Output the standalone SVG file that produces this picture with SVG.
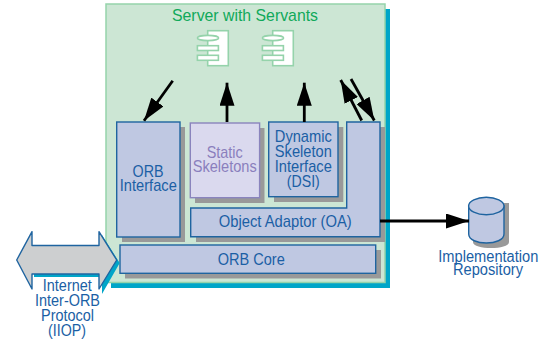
<svg xmlns="http://www.w3.org/2000/svg" width="547" height="341" viewBox="0 0 547 341">
<defs>
<style>
text{font-family:"Liberation Sans",Arial,sans-serif;font-size:17px;fill:#1b5fa5;text-anchor:middle}
.box{fill:#bfc8e2;stroke:#1f64a0;stroke-width:1.4}
.sh{fill:#999}
.comp{fill:#fff;stroke:#95d3ab;stroke-width:1.6}
.c{fill:none;stroke:#000;stroke-width:2.8}
.repo{font-size:16px}
</style>
<marker id="ah" viewBox="0 0 23 15" refX="23" refY="7.500" markerWidth="23" markerHeight="15" markerUnits="userSpaceOnUse" orient="auto"><path d="M0 0L23 7.500L0 15Z" fill="#000"/></marker>
</defs>
<g id="server">
<rect x="111" y="9" width="279" height="279" fill="#00a5c8"/>
<rect x="106" y="4" width="279" height="278.500" fill="#cce6d4" stroke="#95d3ab" stroke-width="1.500"/>
<text x="245" y="21" textLength="146" lengthAdjust="spacingAndGlyphs" style="fill:#10a95a">Server with Servants</text>
</g>
<g id="servant1">
<rect class="comp" x="207.700" y="30.700" width="20.600" height="35"/>
<ellipse class="comp" cx="208" cy="38" rx="10.600" ry="2.600"/>
<rect class="comp" x="197.400" y="45.700" width="21" height="4.800"/>
<rect class="comp" x="197.400" y="55.300" width="21" height="5"/>
</g>
<g id="servant2">
<rect class="comp" x="272.700" y="30.700" width="20.600" height="35"/>
<ellipse class="comp" cx="273" cy="38" rx="10.600" ry="2.600"/>
<rect class="comp" x="262.400" y="45.700" width="21" height="4.800"/>
<rect class="comp" x="262.400" y="55.300" width="21" height="5"/>
</g>
<g id="orb-interface">
<rect class="sh" x="122" y="127" width="63" height="115"/>
<rect class="box" x="116.700" y="122" width="63.300" height="115"/>
<text x="148" y="176.700" textLength="31" lengthAdjust="spacingAndGlyphs">ORB</text>
<text x="148.300" y="191" textLength="57" lengthAdjust="spacingAndGlyphs">Interface</text>
</g>
<g id="static-skeletons">
<rect class="sh" x="195" y="128" width="69.500" height="75"/>
<rect x="190.300" y="123" width="69.300" height="74.700" fill="#dad9ee" stroke="#8a84bd" stroke-width="1.400"/>
<text x="224.700" y="158" textLength="36" lengthAdjust="spacingAndGlyphs" style="fill:#8a7fbd">Static</text>
<text x="224.700" y="172" textLength="64" lengthAdjust="spacingAndGlyphs" style="fill:#8a7fbd">Skeletons</text>
</g>
<g id="dsi">
<rect class="sh" x="274" y="127" width="69.300" height="75"/>
<rect class="box" x="268.700" y="122" width="69.300" height="74.700"/>
<text x="303.300" y="141.700" textLength="57" lengthAdjust="spacingAndGlyphs">Dynamic</text>
<text x="303.300" y="156.700" textLength="57" lengthAdjust="spacingAndGlyphs">Skeleton</text>
<text x="303.300" y="171.700" textLength="57" lengthAdjust="spacingAndGlyphs">Interface</text>
<text x="303.300" y="186.700" textLength="33" lengthAdjust="spacingAndGlyphs">(DSI)</text>
</g>
<g id="object-adaptor">
<path class="sh" d="M196 213H352V127H385V242H196Z"/>
<path class="box" d="M190.700 208H346.700V122H380V236.700H190.700Z"/>
<text x="285.200" y="226.700" textLength="133" lengthAdjust="spacingAndGlyphs">Object Adaptor (OA)</text>
</g>
<g id="orb-core">
<rect class="sh" x="125" y="250" width="256" height="28.500"/>
<rect class="box" x="120" y="245" width="255.700" height="28.300"/>
<text x="251.300" y="265" textLength="67" lengthAdjust="spacingAndGlyphs">ORB Core</text>
</g>
<g id="iiop">
<path fill="#00a5c8" d="M34 234V248H102V235L119.700 263L102 294V277H34Z"/>
<path fill="#cdcfd0" stroke="#1f64a0" stroke-width="1.400" stroke-linejoin="round" d="M32 231.700V245.500H99V231.700L116.700 260L99 289V274H32V289L16.700 260Z"/>
<text x="67.300" y="291" textLength="49" lengthAdjust="spacingAndGlyphs">Internet</text>
<text x="67.500" y="306" textLength="65" lengthAdjust="spacingAndGlyphs">Inter-ORB</text>
<text x="67.500" y="321" textLength="53" lengthAdjust="spacingAndGlyphs">Protocol</text>
<text x="67" y="335.700" textLength="38" lengthAdjust="spacingAndGlyphs">(IIOP)</text>
</g>
<g id="repository">
<path class="sh" d="M473 203H509V242C509 250 473 250 473 242Z"/>
<path class="box" d="M468.700 206V234C468.700 246 504 246 504 234V206Z"/>
<ellipse class="box" cx="486.300" cy="206" rx="17.700" ry="8.800"/>
<text class="repo" x="488.300" y="261.700" textLength="100" lengthAdjust="spacingAndGlyphs">Implementation</text>
<text class="repo" x="488" y="275" textLength="70" lengthAdjust="spacingAndGlyphs">Repository</text>
</g>
<g id="connectors">
<path class="c" d="M172.700 80.700L144 120.700" marker-end="url(#ah)"/>
<path class="c" d="M227 122V82.700" marker-end="url(#ah)"/>
<path class="c" d="M304.300 122V82.700" marker-end="url(#ah)"/>
<path class="c" d="M361.700 120.500L340.700 80" marker-end="url(#ah)"/>
<path class="c" d="M351 79L374.300 120.500" marker-end="url(#ah)"/>
<path class="c" d="M380 221H469" marker-end="url(#ah)"/>
</g>
</svg>
